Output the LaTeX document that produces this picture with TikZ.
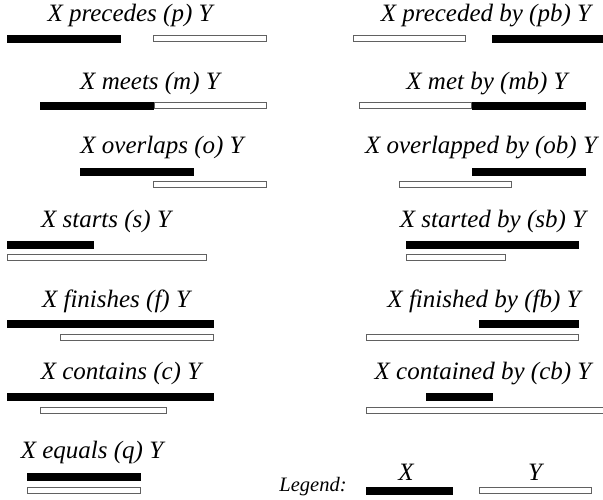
\documentclass[tikz,border=0pt]{standalone}
\usepackage{fontspec}
\setmainfont{Liberation Serif}[ItalicFont={Liberation Serif Italic}]
\newfontfamily\capfont{Liberation Serif Italic}
\begin{document}
\begin{tikzpicture}[x=1pt,y=-1pt,
  xbar/.style={fill=black},
  ybar/.style={fill=white,draw=black!62,line width=0.9pt},
  lbl/.style={font=\fontsize{25}{30}\capfont,anchor=base,inner sep=0pt},
  leg/.style={font=\fontsize{20.5}{24}\capfont,anchor=base,inner sep=0pt}]
\useasboundingbox (0,0) rectangle (603,499);
% interval X (solid) and interval Y (outlined)
\newcommand{\xint}[3]{\fill[xbar] (#1,#3) rectangle (#2,#3+7.5);}
\newcommand{\yint}[3]{\draw[ybar] (#1+0.5,#3+0.5) rectangle (#2-0.5,#3+6.5);}

% precedes / preceded by
\node[lbl] (p)  at (130,21) {X precedes (p) Y};
\xint{7}{121}{35}   \yint{153}{267}{35}
\node[lbl] (pb) at (486,21) {X preceded by (pb) Y};
\yint{353}{466}{35} \xint{492}{604}{35}

% meets / met by
\node[lbl] (m)  at (150,89) {X meets (m) Y};
\xint{40}{154}{102} \yint{154}{267}{102}
\node[lbl] (mb) at (487,89) {X met by (mb) Y};
\yint{359}{472}{102} \xint{472}{586}{102}

% overlaps / overlapped by
\node[lbl] (o)  at (162,153) {X overlaps (o) Y};
\xint{80}{194}{168} \yint{153}{267}{181}
\node[lbl] (ob) at (481,153) {X overlapped by (ob) Y};
\xint{472}{586}{168} \yint{399}{512}{181}

% starts / started by
\node[lbl] (s)  at (106,227) {X starts (s) Y};
\xint{7}{94}{241}   \yint{7}{207}{254}
\node[lbl] (sb) at (493,227) {X started by (sb) Y};
\xint{406}{579}{241} \yint{406}{506}{254}

% finishes / finished by
\node[lbl] (f)  at (116,307) {X finishes (f) Y};
\xint{7}{214}{320}  \yint{60}{214}{334}
\node[lbl] (fb) at (484,307) {X finished by (fb) Y};
\xint{479}{579}{320} \yint{366}{579}{334}

% contains / contained by
\node[lbl] (c)  at (121,379) {X contains (c) Y};
\xint{7}{214}{393}  \yint{40}{167}{407}
\node[lbl] (cb) at (483,379) {X contained by (cb) Y};
\xint{426}{493}{393} \yint{366}{605}{407}

% equals
\node[lbl] (q)  at (92,458) {X equals (q) Y};
\xint{27}{141}{473} \yint{27}{141}{487}

% legend
\node[leg] (legend) at (313,491) {Legend:};
\node[lbl] (lx) at (406,480) {X};
\node[lbl] (ly) at (535,480) {Y};
\xint{366}{453}{487} \yint{479}{592}{487}
\end{tikzpicture}
\end{document}
